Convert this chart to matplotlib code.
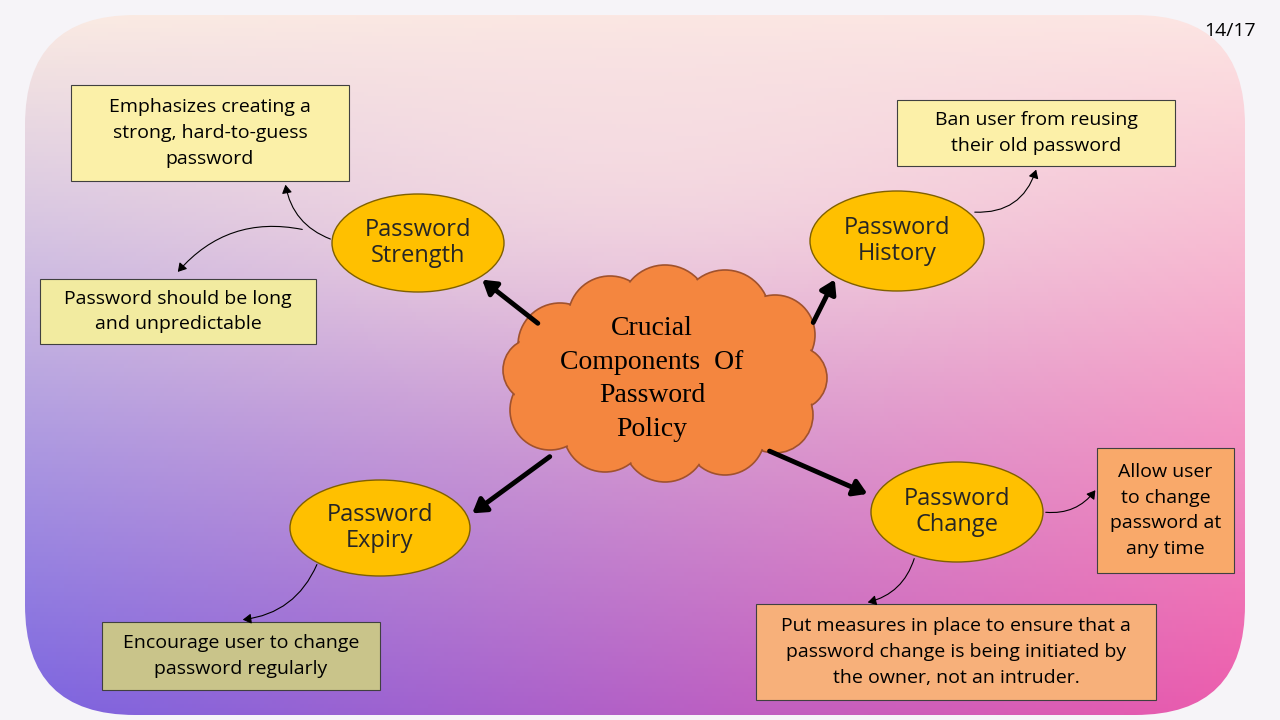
import numpy as np
import matplotlib
matplotlib.use("Agg")
import matplotlib.pyplot as plt
from matplotlib.patches import Ellipse, Rectangle, FancyBboxPatch, Circle, FancyArrowPatch

center_text = "Crucial\nComponents  Of\nPassword\nPolicy"
nodes = ["Password\nStrength", "Password\nHistory", "Password\nExpiry", "Password\nChange"]
node_xy = [(418, 243), (897, 241), (380, 528), (957, 512)]
node_wh = [(172, 98), (174, 100), (180, 96), (172, 100)]
notes = ["Emphasizes creating a\nstrong, hard-to-guess\npassword",
         "Ban user from reusing\ntheir old password",
         "Password should be long\nand unpredictable",
         "Encourage user to change\npassword regularly",
         "Put measures in place to ensure that a\npassword change is being initiated by\nthe owner, not an intruder.",
         "Allow user\nto change\npassword at\nany time"]
note_box = [(71, 85, 349, 181), (897, 100, 1175, 166), (40, 279, 316, 344),
            (102, 622, 380, 690), (756, 604, 1156, 700), (1097, 448, 1234, 573)]
note_col = ["#FBF0A8", "#FCF0A8", "#F2EBA0", "#C9C48A", "#F7B07A", "#F9A96A"]

fig = plt.figure(figsize=(12.8, 7.2), dpi=100)
ax = fig.add_axes([0, 0, 1, 1])
ax.set_xlim(0, 1280); ax.set_ylim(720, 0); ax.axis("off")

# background gradient
H, W = 180, 320
yy, xx = np.mgrid[0:1:H*1j, 0:1:W*1j]
tl = np.array([253, 238, 226]); tr = np.array([253, 232, 228])
bl = np.array([120, 100, 225]); br = np.array([240, 90, 170])
mid = np.array([250, 228, 228])
img = ((1-xx)[..., None]*(1-yy)[..., None]*tl + xx[..., None]*(1-yy)[..., None]*tr +
       (1-xx)[..., None]*yy[..., None]*bl + xx[..., None]*yy[..., None]*br)
w = np.exp(-((xx-0.5)**2/0.12 + (yy-0.2)**2/0.06))[..., None]
img = img*(1-0.6*w) + mid*0.6*w
ax.add_patch(Rectangle((0, 0), 1280, 720, color="#F6F4F8", zorder=0))
panel = FancyBboxPatch((25, 15), 1220, 700, boxstyle="round,pad=0,rounding_size=110",
                       fc="none", ec="none", zorder=1)
ax.add_patch(panel)
im = ax.imshow(np.clip(img/255, 0, 1), extent=(0, 1280, 720, 0), zorder=1, aspect="auto")
im.set_clip_path(panel)

ax.text(1230, 31, "14/17", fontsize=14, family="Open Sans", ha="center", va="center", zorder=10)

# cloud
circles = [(560, 345, 42), (610, 318, 42), (665, 310, 45), (725, 315, 45), (775, 335, 40),
           (795, 378, 32), (775, 415, 38), (725, 435, 40), (665, 440, 42), (605, 430, 42),
           (550, 410, 40), (535, 370, 32), (665, 375, 80), (600, 375, 60), (730, 375, 60)]
for (x, y, r) in circles:
    ax.add_patch(Circle((x, y), r, fc="#F4863F", ec="#A0522D", lw=1.2, zorder=3))
for (x, y, r) in circles:
    ax.add_patch(Circle((x, y), r-1.5, fc="#F4863F", ec="none", zorder=4))
ax.text(652, 379, center_text, fontsize=20, family="Liberation Serif", ha="center",
        va="center", linespacing=1.45, zorder=5)

# thick arrows
thick = [((540, 325), (480, 278)), ((812, 325), (836, 277)),
         ((552, 455), (470, 515)), ((767, 450), (870, 495))]
for s, e in thick:
    ax.add_patch(FancyArrowPatch(s, e, arrowstyle="-|>,head_length=8,head_width=5",
                                 lw=3.5, color="black", zorder=6))

for (x, y), (w_, h_), t in zip(node_xy, node_wh, nodes):
    ax.add_patch(Ellipse((x, y), w_, h_, fc="#FFC000", ec="#7F6000", lw=1, zorder=6))
    ax.text(x, y, t, fontsize=17, family="Open Sans", ha="center", va="center",
            color="#262626", linespacing=1.15, zorder=7)

for (x0, y0, x1, y1), t, c in zip(note_box, notes, note_col):
    ax.add_patch(Rectangle((x0, y0), x1-x0, y1-y0, fc=c, ec="#404040", lw=0.8, zorder=6))
    ax.text((x0+x1)/2, (y0+y1)/2, t, fontsize=14, family="Open Sans", ha="center",
            va="center", linespacing=1.55, zorder=7)

thin = [((333, 240), (285, 182), -0.3), ((305, 230), (176, 274), 0.3),
        ((972, 212), (1037, 167), 0.4), ((318, 562), (240, 620), -0.3),
        ((915, 556), (865, 603), -0.3), ((1043, 512), (1097, 488), 0.3)]
for s, e, rad in thin:
    ax.add_patch(FancyArrowPatch(s, e, connectionstyle=f"arc3,rad={rad}",
                                 arrowstyle="-|>,head_length=5,head_width=3",
                                 lw=0.8, color="black", zorder=6))

fig.savefig("out.png", dpi=100)
